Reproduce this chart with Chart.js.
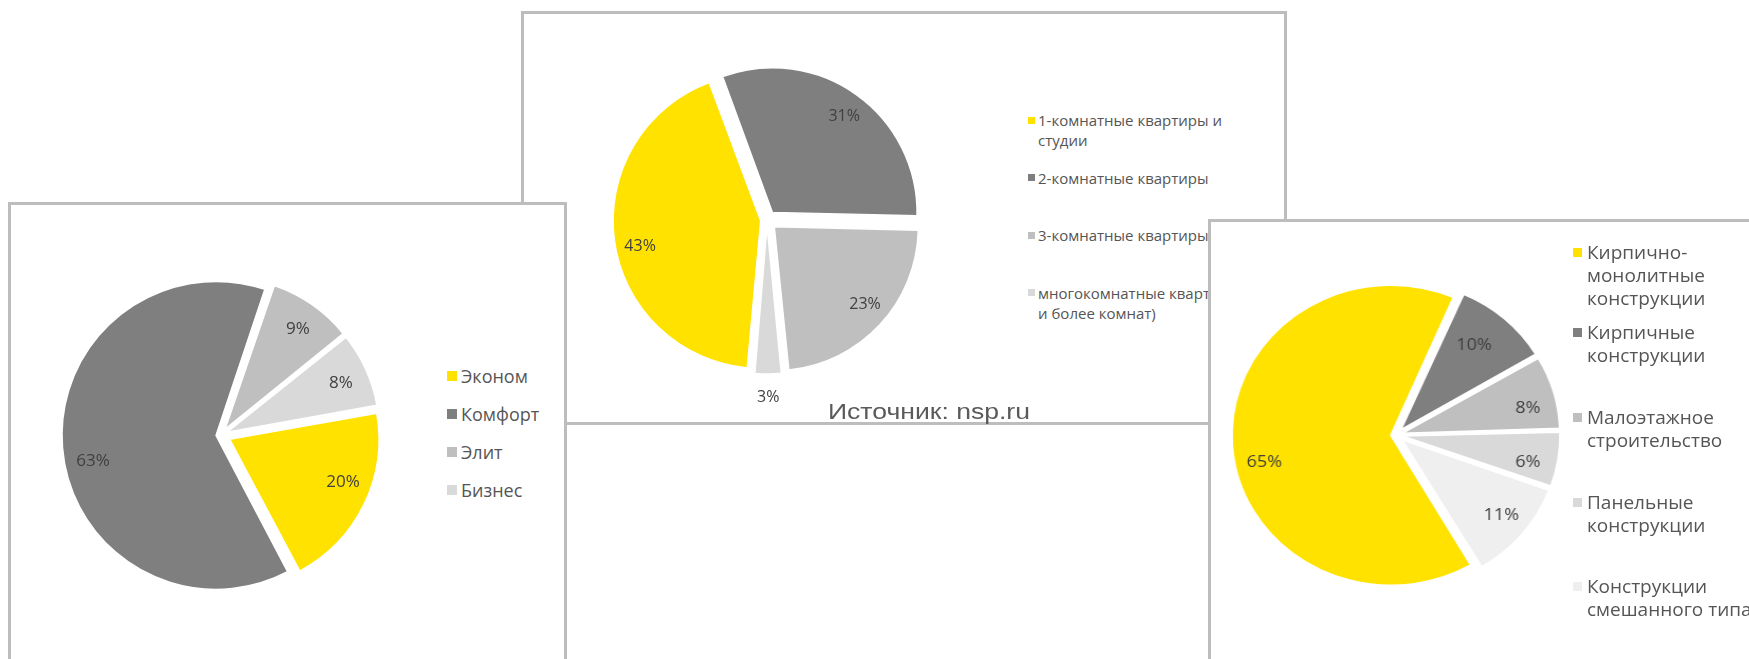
<!DOCTYPE html>
<html><head><meta charset="utf-8">
<script src="https://cdn.jsdelivr.net/npm/chart.js@4.4.1/dist/chart.umd.min.js"></script>
<style>
html,body{margin:0;padding:0;background:#fff;width:1749px;height:659px;overflow:hidden;position:relative;}
.panel{position:absolute;box-sizing:border-box;border:3px solid #bdbdbd;background:#fff;overflow:hidden;}
.legend{position:absolute;font-family:'Open Sans',sans-serif;color:#555555;}
#src{position:absolute;font-family:'Liberation Sans',Arial,sans-serif;color:#5a5a5a;white-space:nowrap;transform-origin:0 0;z-index:5;line-height:1;}
</style></head><body>
<div id="pMid" class="panel" style="left:521px;top:11px;width:766px;height:414px;z-index:1"></div>
<div id="pLeft" class="panel" style="left:8px;top:202px;width:559px;height:520px;z-index:2"></div>
<div id="pRight" class="panel" style="left:1208px;top:219px;width:600px;height:520px;z-index:2"></div>
<div id="src"></div>
<script>
// ---- data ----
const segmentCategories = ['Эконом', 'Комфорт', 'Элит', 'Бизнес'];
const segmentValues = [20, 63, 9, 8];

const roomCategories = ['1-комнатные квартиры и студии', '2-комнатные квартиры', '3-комнатные квартиры', 'многокомнатные квартиры (4 и более комнат)'];
const roomValues = [43, 31, 23, 3];

const techCategories = ['Кирпично-монолитные конструкции', 'Кирпичные конструкции', 'Малоэтажное строительство', 'Панельные конструкции', 'Конструкции смешанного типа'];
const techValues = [65, 10, 8, 6, 11];

const sourceText = 'Источник: nsp.ru';

// ---- styles ----
const YEL = '#FFE200';
const segmentColors = [YEL, '#7F7F7F', '#BFBFBF', '#D9D9D9'];
const roomColors = [YEL, '#7F7F7F', '#BFBFBF', '#D9D9D9'];
const techColors = [YEL, '#7F7F7F', '#BFBFBF', '#D9D9D9', '#EFEFEF'];
const EXPLODE = 10; // effective slice explosion in px

// Chart.js v4 arcs move by offset/4*(1+fix); compute the option so each slice moves EXPLODE px
function explodeOffsets(values, eff) {
  const sum = values.reduce((a, b) => a + b, 0);
  return values.map(v => {
    const circ = v / sum * 2 * Math.PI;
    const fix = 1 - Math.sin(Math.min(Math.PI, circ));
    return 4 * eff / (1 + fix);
  });
}

const pctLabels = {
  id: 'pctLabels',
  afterDatasetsDraw(chart, args, opts) {
    const meta = chart.getDatasetMeta(0);
    const ds = chart.data.datasets[0];
    const ctx = chart.ctx;
    ctx.save();
    ctx.font = opts.font;
    ctx.fillStyle = opts.color;
    ctx.textAlign = 'center';
    ctx.textBaseline = 'middle';
    meta.data.forEach((arc, i) => {
      const p = arc.getProps(['x', 'y', 'startAngle', 'endAngle', 'outerRadius'], true);
      const shift = ((opts.angleShift && opts.angleShift[i]) || 0) * Math.PI / 180;
      const mid = (p.startAngle + p.endAngle) / 2 + shift;
      const frac = (opts.radial && opts.radial[i] != null) ? opts.radial[i] : opts.defaultRadial;
      const d = EXPLODE + frac * p.outerRadius;
      ctx.fillText(ds.data[i] + '%', p.x + Math.cos(mid) * d, p.y + Math.sin(mid) * d);
    });
    ctx.restore();
  }
};

function place(panelId, gx, gy, el) {
  const p = document.getElementById(panelId);
  const left = parseFloat(p.style.left) + 3, top = parseFloat(p.style.top) + 3;
  el.style.position = 'absolute';
  el.style.left = (gx - left) + 'px';
  el.style.top = (gy - top) + 'px';
  p.appendChild(el);
}

function makePie(panelId, cx, cy, r, labels, values, colors, rotation, labelOpts, stretchX) {
  const S = 2 * Math.ceil(r + 60);
  const c = document.createElement('canvas');
  c.width = S; c.height = S;
  c.style.width = S + 'px'; c.style.height = S + 'px';
  if (stretchX) { c.style.transformOrigin = '50% 50%'; c.style.transform = `scaleX(${stretchX})`; }
  place(panelId, cx - S / 2, cy - S / 2, c);
  return new Chart(c, {
    type: 'pie',
    data: { labels: labels, datasets: [{ data: values, backgroundColor: colors, borderColor: '#ffffff', borderWidth: 1.5, offset: explodeOffsets(values, EXPLODE), hoverOffset: 0, radius: r }] },
    options: {
      responsive: false, animation: false, radius: r, rotation: rotation,
      layout: { padding: 0 }, events: [],
      plugins: { legend: { display: false }, tooltip: { enabled: false }, pctLabels: labelOpts }
    },
    plugins: [pctLabels]
  });
}

function makeLegend(panelId, gx, centers, labels, colors, o) {
  labels.forEach((lab, i) => {
    const it = document.createElement('div');
    it.className = 'legend';
    it.style.fontSize = o.size + 'px';
    it.style.lineHeight = o.lineH + 'px';
    it.style.width = o.width + 'px';
    const sw = document.createElement('span');
    sw.style.cssText = `position:absolute;left:${-o.sw - o.gap}px;top:${(o.lineH - o.sw) / 2}px;width:${o.sw}px;height:${o.sw}px;background:${colors[i]}`;
    it.appendChild(sw);
    it.appendChild(document.createTextNode(lab));
    place(panelId, gx, centers[i] - o.lineH / 2, it);
  });
}

// Left: market segments
makePie('pLeft', 221, 435, 149, segmentCategories, segmentValues, segmentColors, 80,
  { font: '17px "Open Sans"', color: '#404040', defaultRadial: 0.81, angleShift: [-5, -7, 1, 1] });
makeLegend('pLeft', 461, [376, 414, 452, 490], segmentCategories, segmentColors, { size: 18, lineH: 24, width: 200, sw: 10, gap: 4 });

// Middle: apartment types
makePie('pMid', 767, 220, 144, roomCategories, roomValues, roomColors, 185,
  { font: '16px "Open Sans"', color: '#404040', defaultRadial: 0.83, radial: [null, null, null, 1.16], angleShift: [-4, 1, -2, 0] });
makeLegend('pMid', 1038, [120, 177.5, 235, 292.5], roomCategories, roomColors, { size: 15, lineH: 20, width: 228, sw: 7, gap: 3 });

// Right: construction technology (source image is slightly stretched horizontally)
makePie('pRight', 1396, 435, 145, techCategories, techValues, techColors, 149.5,
  { font: '17px "Open Sans"', color: '#404040', defaultRadial: 0.81, radial: [null, 0.73, null, null, null], angleShift: [-9, -2, 4, 3, -1] }, 1.058);
makeLegend('pRight', 1587, [252, 332, 417, 502, 586], techCategories, techColors, { size: 19, lineH: 23, width: 175, sw: 9, gap: 5 });

// Source caption
const src = document.getElementById('src');
src.textContent = sourceText;
src.style.fontSize = '22px';
src.style.left = '828px';
src.style.top = '401px';
const nat = src.getBoundingClientRect().width;
src.style.transform = `scaleX(${202 / nat})`;
</script>
</body></html>
